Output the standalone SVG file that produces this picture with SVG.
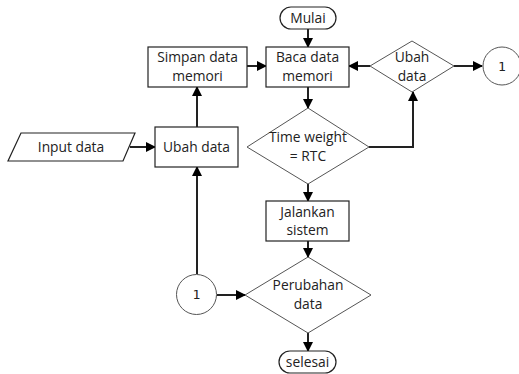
<svg xmlns="http://www.w3.org/2000/svg" width="519" height="374" viewBox="0 0 519 374">
<defs>
<marker id="ah" markerWidth="10" markerHeight="10" refX="9" refY="5" orient="auto" markerUnits="userSpaceOnUse">
<path d="M0,0 L10,5 L0,10 Z" fill="#000"/>
</marker>
<style>
.box{fill:#fff;stroke:#222;stroke-width:1.2}
.dia{fill:#fff;stroke:#555;stroke-width:1}
.t{font-family:"Open Sans","Liberation Sans",sans-serif;font-size:13.8px;fill:#222;text-anchor:middle}
.n{font-family:"DejaVu Sans Mono",monospace;font-size:13px;fill:#222;text-anchor:middle}
.c{fill:none;stroke:#222;stroke-width:2;marker-end:url(#ah)}
</style>
</defs>
<rect width="519" height="374" fill="#fff"/>
<g id="connectors">
<path class="c" d="M308,29 V47"/>
<path class="c" d="M370,66 H349"/>
<path class="c" d="M454,66 H482"/>
<path class="c" d="M247,66 H266"/>
<path class="c" d="M197,127 V87"/>
<path class="c" d="M130,147 H155"/>
<path class="c" d="M308,87 V108"/>
<path class="c" d="M369,147 H413 V92"/>
<path class="c" d="M308,184 V201"/>
<path class="c" d="M308,241 V257"/>
<path class="c" d="M308,333 V351"/>
<path class="c" d="M197,274 V167"/>
<path class="c" d="M217,295 H245"/>
</g>
<g id="mulai">
<rect class="box" x="280" y="7" width="56" height="22" rx="11"/>
<text class="t" x="308" y="23">Mulai</text>
</g>
<g id="baca">
<rect class="box" x="266" y="47" width="83" height="40"/>
<text class="t" x="307.5" y="62">Baca data</text>
<text class="t" x="307.5" y="81">memori</text>
</g>
<g id="ubah-diamond">
<polygon class="dia" points="412,41 454,66 412,92 370,66"/>
<text class="t" x="412" y="62">Ubah</text>
<text class="t" x="412" y="81">data</text>
</g>
<g id="circle-top">
<circle class="dia" cx="502" cy="66" r="19"/>
<text class="n" x="502" y="71">1</text>
</g>
<g id="simpan">
<rect class="box" x="148" y="47" width="99" height="40"/>
<text class="t" x="197.5" y="62">Simpan data</text>
<text class="t" x="197.5" y="81">memori</text>
</g>
<g id="ubah-box">
<rect class="box" x="155" y="127" width="83" height="40"/>
<text class="t" x="196.5" y="152">Ubah data</text>
</g>
<g id="input">
<polygon class="box" points="21,133 135,133 123,161 8,161"/>
<text class="t" x="71" y="152">Input data</text>
</g>
<g id="timeweight">
<polygon class="dia" points="308,108 369,147 308,184 247,147"/>
<text class="t" x="308" y="142">Time weight</text>
<text class="t" x="308" y="161">= RTC</text>
</g>
<g id="jalankan">
<rect class="box" x="266" y="201" width="83" height="40"/>
<text class="t" x="307.5" y="217">Jalankan</text>
<text class="t" x="307.5" y="235">sistem</text>
</g>
<g id="perubahan">
<polygon class="dia" points="308,257 371,295 308,333 245,295"/>
<text class="t" x="308" y="290">Perubahan</text>
<text class="t" x="308" y="309">data</text>
</g>
<g id="circle-bottom">
<circle class="dia" cx="196.5" cy="294.5" r="20"/>
<text class="n" x="196.5" y="299">1</text>
</g>
<g id="selesai">
<rect class="box" x="279" y="351" width="57" height="22" rx="11"/>
<text class="t" x="307.5" y="367">selesai</text>
</g>
</svg>
